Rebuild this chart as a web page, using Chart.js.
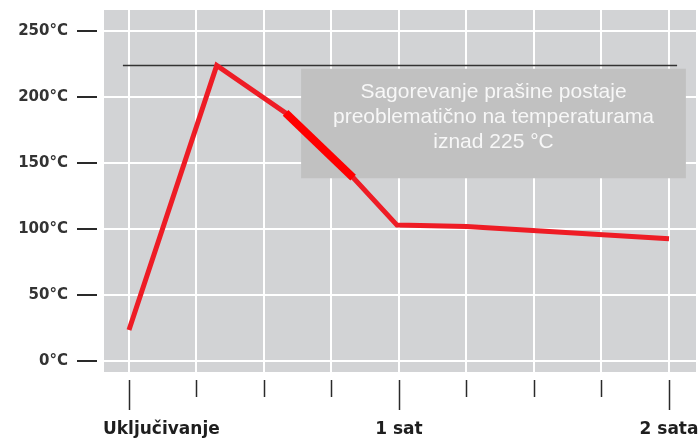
<!DOCTYPE html>
<html>
<head>
<meta charset="utf-8">
<script src="https://cdn.jsdelivr.net/npm/chart.js@4/dist/chart.umd.min.js"></script>
<style>
  body { margin: 0; background: #fff; }
</style>
</head>
<body>
<canvas id="tempChart" width="700" height="440"></canvas>
<script>
// vrijeme (jedinica = 1/4 sata) i temperatura
var timeSteps = [0, 1.3, 2.32, 3.32, 3.97, 5, 8];
var temps = [23.5, 224, 188, 139, 103, 102, 92.6];

// deblji dio linije
var highlightX = [2.32, 3.32];
var highlightY = [188, 139];

// granica 225 °C
var limitX = [-0.09, 8.12];
var limitY = [224, 224];

var yTicks = [0, 50, 100, 150, 200, 250];
var xTicks = [0, 1, 2, 3, 4, 5, 6, 7, 8];
var xLabels = { 0: 'Uključivanje', 4: '1 sat', 8: '2 sata' };
var noteLines = ['Sagorevanje prašine postaje', 'preoblematično na temperaturama', 'iznad 225 °C'];

function toPoints(xs, ys) {
  return xs.map(function (x, i) { return { x: x, y: ys[i] }; });
}

var decor = {
  id: 'decor',
  beforeDraw: function (chart) {
    var a = chart.chartArea, c = chart.ctx;
    c.save();
    c.fillStyle = '#d2d3d5';
    c.fillRect(a.left, a.top, a.right - a.left, a.bottom - a.top);
    c.restore();
  },
  beforeDatasetsDraw: function (chart) {
    // siva kutija s napomenom
    var c = chart.ctx, xs = chart.scales.x, ys = chart.scales.y;
    var l = xs.getPixelForValue(2.55), r = xs.getPixelForValue(8.25);
    var t = ys.getPixelForValue(221.5), b = ys.getPixelForValue(138.5);
    c.save();
    c.fillStyle = '#c1c1c1';
    c.fillRect(l, t, r - l, b - t);
    c.fillStyle = '#f7f7f7';
    c.font = '21px "Liberation Sans", Arial, sans-serif';
    c.textAlign = 'center';
    c.textBaseline = 'middle';
    noteLines.forEach(function (s, i) {
      c.fillText(s, (l + r) / 2, t + 23 + i * 25);
    });
    c.restore();
  },
  afterDraw: function (chart) {
    var c = chart.ctx, a = chart.chartArea, xs = chart.scales.x, ys = chart.scales.y;
    c.save();
    c.strokeStyle = '#2a2a2a';
    c.lineWidth = 2;
    yTicks.forEach(function (v) {
      var y = Math.round(ys.getPixelForValue(v));
      c.beginPath();
      c.moveTo(a.left - 27, y);
      c.lineTo(a.left - 7, y);
      c.stroke();
    });
    c.lineWidth = 1.5;
    xTicks.forEach(function (v) {
      var x = Math.round(xs.getPixelForValue(v)) + 0.5;
      c.beginPath();
      c.moveTo(x, a.bottom + 8);
      c.lineTo(x, a.bottom + (xLabels[v] ? 38 : 25));
      c.stroke();
    });
    c.fillStyle = '#1e1e1e';
    c.font = 'bold 17px "DejaVu Sans", sans-serif';
    c.textBaseline = 'alphabetic';
    Object.keys(xLabels).forEach(function (k) {
      var x = xs.getPixelForValue(Number(k));
      if (Number(k) === 0) {
        c.textAlign = 'left';
        c.fillText(xLabels[k], x - 26, a.bottom + 62);
      } else {
        c.textAlign = 'center';
        c.fillText(xLabels[k], x, a.bottom + 62);
      }
    });
    c.restore();
  }
};

var ctx = document.getElementById('tempChart').getContext('2d');
new Chart(ctx, {
  type: 'line',
  data: {
    datasets: [
      {
        data: toPoints(timeSteps, temps),
        borderColor: '#ee1c25',
        borderWidth: 5,
        borderJoinStyle: 'miter',
        pointRadius: 0,
        tension: 0,
        order: 1
      },
      {
        data: toPoints(highlightX, highlightY),
        borderColor: '#ff0000',
        borderWidth: 8,
        borderCapStyle: 'butt',
        pointRadius: 0,
        order: 0
      },
      {
        data: toPoints(limitX, limitY),
        borderColor: '#333',
        borderWidth: 1.5,
        pointRadius: 0,
        order: 2
      }
    ]
  },
  options: {
    responsive: false,
    animation: false,
    layout: { padding: { left: 0, right: 4, top: 10, bottom: 0 } },
    plugins: {
      legend: { display: false },
      tooltip: { enabled: false }
    },
    scales: {
      x: {
        type: 'linear',
        min: -0.37,
        max: 8.4,
        afterBuildTicks: function (s) { s.ticks = xTicks.map(function (v) { return { value: v }; }); },
        afterFit: function (s) { s.height = 68; },
        ticks: { display: false },
        grid: { color: '#ffffff', lineWidth: 2, drawTicks: false },
        border: { display: false }
      },
      y: {
        min: -8.3,
        max: 266,
        afterBuildTicks: function (s) { s.ticks = yTicks.map(function (v) { return { value: v }; }); },
        afterFit: function (s) { s.width = 104; },
        ticks: {
          padding: 0,
          color: '#333',
          font: { family: '"DejaVu Sans", sans-serif', size: 15, weight: 'bold' },
          callback: function (v) { return v + '°C'; }
        },
        grid: { color: '#ffffff', lineWidth: 2, drawTicks: true, tickLength: 36, tickColor: 'rgba(0,0,0,0)' },
        border: { display: false }
      }
    }
  },
  plugins: [decor]
});
</script>
</body>
</html>
